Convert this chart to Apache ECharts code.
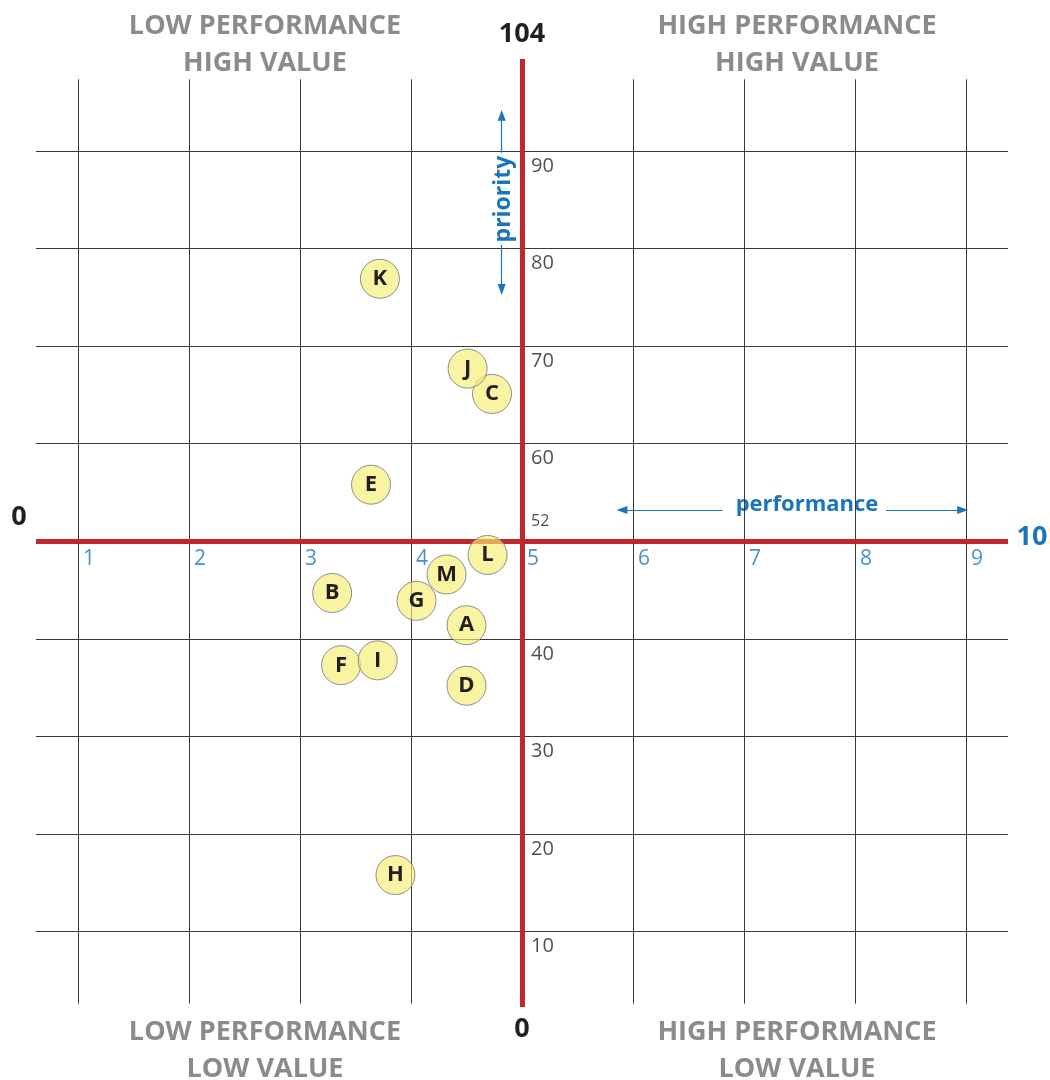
<!DOCTYPE html>
<html>
<head>
    <meta charset="utf-8">
    <title>Performance / Priority matrix</title>
    <style>
        html, body { margin: 0; padding: 0; background: #fff; }
        #chart { width: 1050px; height: 1080px; }
    </style>
</head>
<body>
<div id="chart"></div>
<script src="https://cdn.jsdelivr.net/npm/echarts@6/dist/echarts.min.js"></script>
<script type="text/javascript">
    // 数据
    var pointNames = ['A', 'B', 'C', 'D', 'E', 'F', 'G', 'H', 'I', 'J', 'K', 'L', 'M'];
    var performance = [4.50, 3.29, 4.73, 4.50, 3.64, 3.37, 4.05, 3.86, 3.70, 4.51, 3.72, 4.69, 4.32];
    var priority = [41.4, 44.7, 65.1, 35.2, 55.8, 37.3, 43.9, 15.8, 37.8, 67.7, 76.9, 48.6, 46.6];

    var xTicks = [1, 2, 3, 4, 5, 6, 7, 8, 9];
    var xTickLabels = ['1', '2', '3', '4', '5', '6', '7', '8', '9'];
    var yTicks = [10, 20, 30, 40, 50, 60, 70, 80, 90];
    var yTickLabels = ['10', '20', '30', '40', '52', '60', '70', '80', '90'];

    var xMid = 5, yMid = 50;

    var FONT = '"Open Sans", "Noto Sans", sans-serif';
    var BLUE = '#1b75bc';
    var RED = '#c1272d';
    var INK = '#231f20';
    var GREY = '#8a8b8d';

    var myChart = echarts.init(document.getElementById('chart'));

    // 网格线
    var gridLines = [];
    xTicks.forEach(function (v) {
        if (v === xMid) return;
        gridLines.push([{coord: [v, 2.62]}, {coord: [v, 97.34]}]);
    });
    yTicks.forEach(function (v) {
        if (v === yMid) return;
        gridLines.push({yAxis: v});
    });

    var bubbles = pointNames.map(function (n, i) {
        return [performance[i], priority[i], n];
    });

    var yLabelData = yTicks.map(function (v, i) {
        var mid = v === yMid;
        return {
            value: [xMid, v],
            label: {
                formatter: yTickLabels[i],
                position: mid ? [9, -20] : [9, 15],
                fontSize: mid ? 16 : 20
            }
        };
    });

    var xLabelData = xTicks.map(function (v, i) {
        return {value: [v, yMid], label: {formatter: xTickLabels[i]}};
    });

    function quadrant(text, x, y) {
        return {
            type: 'text',
            x: x,
            y: y,
            style: {
                text: text,
                fill: GREY,
                font: 'bold 27px ' + FONT,
                lineHeight: 37,
                align: 'center',
                verticalAlign: 'middle'
            }
        };
    }

    function endLabel(text, x, y, color) {
        return {
            type: 'text',
            x: x,
            y: y,
            style: {
                text: text,
                fill: color,
                font: 'bold 27px ' + FONT,
                align: 'center',
                verticalAlign: 'middle'
            }
        };
    }

    var arrowLine = {color: BLUE, width: 1.2, type: 'solid'};

    var option = {
        animation: false,
        grid: {left: 36, right: 42, top: 59, bottom: 73},
        xAxis: {type: 'value', min: 0.622, max: 9.378, show: false},
        yAxis: {type: 'value', min: 2.28, max: 99.42, show: false},
        graphic: [
            quadrant('LOW PERFORMANCE\nHIGH VALUE', 265, 45),
            quadrant('HIGH PERFORMANCE\nHIGH VALUE', 797, 45),
            quadrant('LOW PERFORMANCE\nLOW VALUE', 265, 1051),
            quadrant('HIGH PERFORMANCE\nLOW VALUE', 797, 1051),
            endLabel('104', 522, 34, INK),
            endLabel('0', 522, 1029, INK),
            endLabel('0', 19, 517, INK),
            endLabel('10', 1032, 537, BLUE),
            {
                type: 'text',
                x: 503,
                y: 199,
                rotation: Math.PI / 2,
                style: {
                    text: 'priority',
                    fill: BLUE,
                    font: 'bold 23px ' + FONT,
                    align: 'center',
                    verticalAlign: 'middle'
                }
            },
            {
                type: 'text',
                x: 807,
                y: 505,
                style: {
                    text: 'performance',
                    fill: BLUE,
                    font: 'bold 22px ' + FONT,
                    align: 'center',
                    verticalAlign: 'middle'
                }
            }
        ],
        series: [
            {
                // 灰色网格
                type: 'scatter',
                data: [],
                silent: true,
                markLine: {
                    z: 1,
                    silent: true,
                    symbol: 'none',
                    label: {show: false},
                    lineStyle: {color: '#3a3a3a', width: 1, type: 'solid'},
                    data: gridLines
                }
            },
            {
                // 红色中心线 + 蓝色箭头
                type: 'scatter',
                data: [],
                silent: true,
                markLine: {
                    z: 2,
                    silent: true,
                    symbol: 'none',
                    label: {show: false},
                    lineStyle: {color: RED, width: 5, type: 'solid'},
                    data: [
                        {xAxis: xMid},
                        {yAxis: yMid},
                        [{coord: [4.817, 89.82], symbol: 'none', lineStyle: arrowLine},
                            {coord: [4.817, 93.65], symbol: 'triangle', symbolSize: [8, 11]}],
                        [{coord: [4.817, 80.36], symbol: 'none', lineStyle: arrowLine},
                            {coord: [4.817, 75.8], symbol: 'triangle', symbolSize: [8, 11]}],
                        [{coord: [6.808, 53.2], symbol: 'none', lineStyle: arrowLine},
                            {coord: [5.90, 53.2], symbol: 'triangle', symbolSize: [8, 11]}],
                        [{coord: [8.279, 53.2], symbol: 'none', lineStyle: arrowLine},
                            {coord: [8.97, 53.2], symbol: 'triangle', symbolSize: [8, 11]}]
                    ]
                }
            },
            {
                // 气泡
                type: 'scatter',
                z: 10,
                clip: false,
                symbolSize: 39,
                data: bubbles,
                itemStyle: {
                    color: 'rgba(245,238,110,0.65)',
                    borderColor: '#8c8c8c',
                    borderWidth: 1,
                    opacity: 1
                },
                label: {
                    show: true,
                    position: 'inside',
                    formatter: function (p) { return p.value[2]; },
                    color: INK,
                    fontFamily: FONT,
                    fontWeight: 'bold',
                    fontSize: 22
                }
            },
            {
                // y 轴刻度
                type: 'scatter',
                z: 11,
                silent: true,
                symbolSize: 0,
                itemStyle: {color: 'transparent'},
                data: yLabelData,
                label: {
                    show: true,
                    color: INK,
                    fontFamily: FONT,
                    align: 'left',
                    verticalAlign: 'middle'
                }
            },
            {
                // x 轴刻度
                type: 'scatter',
                z: 11,
                silent: true,
                symbolSize: 0,
                itemStyle: {color: 'transparent'},
                data: xLabelData,
                label: {
                    show: true,
                    position: [5, 18],
                    color: BLUE,
                    fontFamily: FONT,
                    fontSize: 21,
                    align: 'left',
                    verticalAlign: 'middle'
                }
            }
        ]
    };

    myChart.setOption(option);
</script>
</body>
</html>
